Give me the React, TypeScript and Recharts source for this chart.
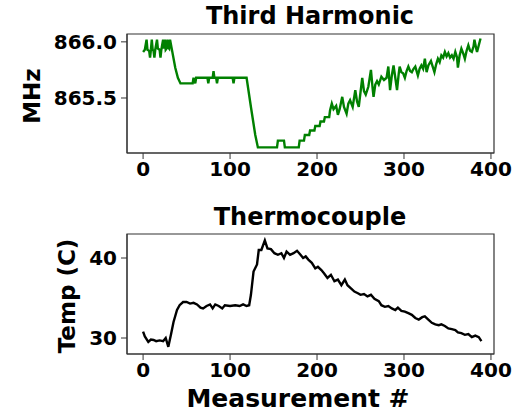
import { LineChart, Line, XAxis, YAxis, ReferenceArea } from 'recharts';

// Third harmonic frequency (MHz) by measurement number
const harmonicIdx = [
  0, 2, 4, 5, 7, 8, 9, 10, 11, 12, 13, 14, 16, 17, 19, 20, 21, 23, 24, 25, 26, 27, 28, 29, 30, 31,
  37, 40, 43, 57, 58, 60, 61, 74, 75, 76, 80, 81, 82, 84, 85, 86, 103, 104, 105, 119,
  124, 129, 132, 154, 155, 162, 163, 179, 180, 185, 186, 191, 192, 197, 198, 203, 204, 208, 209, 214,
  215, 217, 219, 222, 224, 226, 229, 231, 234, 236, 238, 241, 244, 246, 248, 250, 252, 254, 256, 259,
  262, 264, 265, 267, 269, 271, 274, 277, 280, 282, 284, 286, 288, 290, 292, 294, 295, 297, 299, 301,
  303, 305, 307, 309, 311, 313, 316, 318, 320, 322, 324, 326, 328, 331, 333, 335, 337, 339, 341, 343,
  345, 347, 349, 351, 353, 355, 357, 359, 361, 362, 364, 366, 368, 370, 372, 374, 376, 378, 380, 381,
  383, 384, 386, 388,
];
const harmonicMHz = [
  865.91, 865.93, 866.02, 865.93, 865.92, 865.86, 865.93, 866.02, 865.93, 865.92, 865.86, 865.93, 866.02,
  865.94, 865.93, 865.86, 865.93, 866.02, 865.94, 866.02, 865.93, 865.94, 866.02, 865.95, 865.94, 866.02,
  865.77, 865.68, 865.63, 865.63, 865.68, 865.63, 865.68, 865.68, 865.63, 865.68, 865.68, 865.74, 865.68,
  865.68, 865.63, 865.68, 865.68, 865.63, 865.68, 865.68,
  865.42, 865.17, 865.06, 865.06, 865.12, 865.12, 865.06, 865.06, 865.12, 865.12, 865.17, 865.17, 865.21,
  865.21, 865.25, 865.25, 865.29, 865.29, 865.33, 865.33,
  865.39, 865.45, 865.40, 865.43, 865.35, 865.40, 865.51, 865.42, 865.36, 865.45, 865.48, 865.42, 865.57,
  865.47, 865.42, 865.55, 865.68, 865.56, 865.53, 865.60,
  865.75, 865.58, 865.51, 865.62, 865.65, 865.62, 865.69, 865.66, 865.68, 865.78, 865.57, 865.70, 865.79,
  865.68, 865.57, 865.72, 865.78, 865.73, 865.72, 865.68,
  865.74, 865.78, 865.74, 865.73, 865.76, 865.78, 865.70, 865.76, 865.79, 865.76, 865.85, 865.73, 865.79,
  865.83, 865.78, 865.73, 865.80, 865.85, 865.82, 865.88,
  865.86, 865.91, 865.87, 865.90, 865.86, 865.88, 865.85, 865.91, 865.86, 865.77, 865.88, 865.94, 865.90,
  865.85, 865.92, 865.97, 865.92, 865.91, 865.96, 866.02,
  865.94, 865.91, 865.97, 866.03,
];

// Thermocouple temperature (C) by measurement number
const tempIdx = [
  0, 2, 6, 9, 12, 15, 19, 23, 26, 29, 32, 35, 39, 42, 46, 50, 54, 58, 62, 66, 69, 73, 77, 80, 83, 87,
  91, 94, 100, 106, 111, 115, 119, 122, 124, 127, 131, 133, 136, 140, 143, 147, 151, 155, 159, 162, 165,
  169, 173, 177, 181, 184, 187, 190, 194, 198, 201, 205, 208, 212, 216, 220, 224, 228, 232, 235, 239,
  243, 247, 250, 254, 258, 262, 266, 271, 274, 278, 282, 286, 290, 293, 297, 301, 305, 309, 313, 317,
  321, 324, 328, 332, 336, 340, 343, 347, 351, 355, 359, 362, 366, 370, 374, 378, 382, 386, 389,
];
const tempC = [
  30.8, 30.2, 29.5, 29.8, 29.75, 29.6, 29.7, 29.6, 30.0, 28.9, 30.4, 32.0, 33.5, 34.1, 34.5, 34.5, 34.3,
  34.4, 34.2, 33.8, 33.7, 34.0, 34.2, 33.7, 34.2, 34.0, 33.7, 34.1, 34.0, 34.1, 34.0, 34.2, 34.0, 34.1,
  35.4, 38.3, 39.2, 41.0, 41.0, 42.2, 41.2, 41.1, 40.6, 40.4, 40.6, 40.0, 40.8, 40.4, 40.6, 40.9, 40.4,
  40.0, 40.2, 39.8, 39.4, 38.7, 38.9, 38.5, 38.1, 37.5, 37.9, 37.1, 37.3, 36.6, 37.3, 36.6, 36.2, 35.8,
  35.6, 35.4, 35.5, 35.2, 35.4, 34.9, 34.6, 34.1, 33.9, 34.0, 33.7, 33.5, 33.8, 33.4, 33.3, 33.1, 32.9,
  32.5, 32.3, 32.6, 32.7, 32.3, 31.9, 31.7, 31.6, 31.7, 31.5, 31.2, 31.1, 31.0, 30.7, 30.6, 30.4, 30.5,
  30.1, 30.3, 30.1, 29.6,
];

const xTicks = [0, 100, 200, 300, 400];
const xDomain = [-18.5, 403.5];
const harmonicTicks = [865.5, 866.0];
const harmonicDomain = [865.01, 866.07];
const tempTicks = [30, 40];
const tempDomain = [28, 43];

const harmonicData = harmonicIdx.map((m, i) => ({ m, v: harmonicMHz[i] }));
const tempData = tempIdx.map((m, i) => ({ m, v: tempC[i] }));

const FONT = '"DejaVu Sans", sans-serif';
const AXIS = '#333';
const tickStyle = { fill: '#000', fontSize: 20, fontWeight: 700, fontFamily: FONT };
const textStyle: React.CSSProperties = {
  position: 'absolute',
  fontFamily: FONT,
  fontWeight: 700,
  color: '#000',
  whiteSpace: 'nowrap',
  transform: 'translate(-50%, -50%)',
  lineHeight: 1,
};

function Panel({ data, color, domain, ticks, fmt, top, height, margin }: any) {
  return (
    <div style={{ position: 'absolute', left: 0, top }}>
      <LineChart width={521} height={height} data={data} margin={margin}>
        <XAxis
          dataKey="m"
          type="number"
          domain={xDomain}
          ticks={xTicks}
          tick={tickStyle}
          tickSize={6}
          tickMargin={3}
          stroke={AXIS}
          height={30}
          allowDataOverflow
        />
        <YAxis
          type="number"
          domain={domain}
          ticks={ticks}
          tickFormatter={fmt}
          tick={tickStyle}
          tickSize={6}
          tickMargin={4}
          stroke={AXIS}
          width={90}
          allowDataOverflow
        />
        {/* full frame like a matplotlib axes box */}
        <ReferenceArea
          x1={xDomain[0]}
          x2={xDomain[1]}
          y1={domain[0]}
          y2={domain[1]}
          fill="none"
          stroke={AXIS}
          strokeWidth={1.2}
          fillOpacity={0}
        />
        <Line type="linear" dataKey="v" stroke={color} strokeWidth={2.4} dot={false} isAnimationActive={false} />
      </LineChart>
    </div>
  );
}

export default function App() {
  return (
    <div style={{ position: 'absolute', left: 0, top: 0, width: 521, height: 414, background: '#fff' }}>
      <Panel
        data={harmonicData}
        color="#008000"
        domain={harmonicDomain}
        ticks={harmonicTicks}
        fmt={(v: number) => v.toFixed(1)}
        top={0}
        height={200}
        margin={{ top: 34, right: 27, left: 37, bottom: 17 }}
      />
      <Panel
        data={tempData}
        color="#000"
        domain={tempDomain}
        ticks={tempTicks}
        fmt={(v: number) => String(v)}
        top={200}
        height={214}
        margin={{ top: 34, right: 27, left: 37, bottom: 30 }}
      />
      <div style={{ ...textStyle, left: 310, top: 16, fontSize: 24 }}>Third Harmonic</div>
      <div style={{ ...textStyle, left: 310, top: 217, fontSize: 24 }}>Thermocouple</div>
      <div style={{ ...textStyle, left: 298, top: 398, fontSize: 25 }}>Measurement #</div>
      <div style={{ ...textStyle, left: 32, top: 96, fontSize: 23, transform: 'translate(-50%, -50%) rotate(-90deg)' }}>MHz</div>
      <div style={{ ...textStyle, left: 67, top: 296, fontSize: 23, transform: 'translate(-50%, -50%) rotate(-90deg)' }}>Temp (C)</div>
    </div>
  );
}
